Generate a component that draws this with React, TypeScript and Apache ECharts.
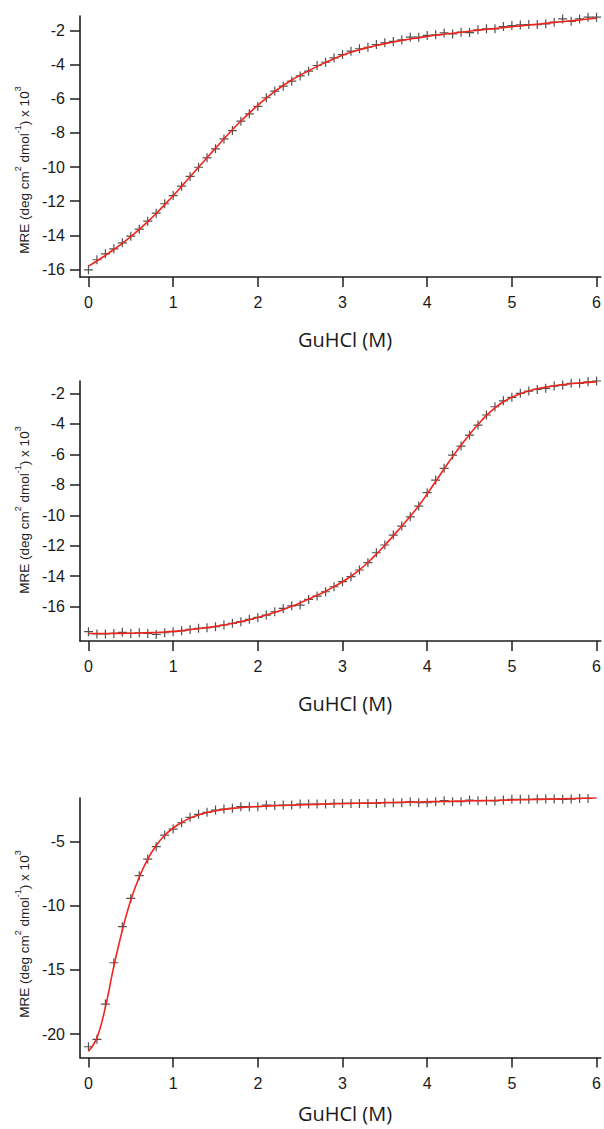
import React, { useEffect, useRef } from "react";
import * as echarts from "echarts";

const conc = [
  0, 0.1, 0.2, 0.3, 0.4, 0.5, 0.6, 0.7, 0.8, 0.9,
  1.0, 1.1, 1.2, 1.3, 1.4, 1.5, 1.6, 1.7, 1.8, 1.9,
  2.0, 2.1, 2.2, 2.3, 2.4, 2.5, 2.6, 2.7, 2.8, 2.9,
  3.0, 3.1, 3.2, 3.3, 3.4, 3.5, 3.6, 3.7, 3.8, 3.9,
  4.0, 4.1, 4.2, 4.3, 4.4, 4.5, 4.6, 4.7, 4.8, 4.9,
  5.0, 5.1, 5.2, 5.3, 5.4, 5.5, 5.6, 5.7, 5.8, 5.9,
  6.0,
];

const mre1 = [
  -16.02, -15.43, -15.08, -14.79, -14.44, -14.05, -13.64, -13.17, -12.7, -12.15,
  -11.67, -11.12, -10.55, -10.01, -9.46, -8.93, -8.35, -7.86, -7.31, -6.88,
  -6.45, -5.94, -5.55, -5.26, -4.97, -4.66, -4.38, -4.05, -3.86, -3.6,
  -3.41, -3.21, -3.07, -2.98, -2.82, -2.72, -2.64, -2.55, -2.39, -2.39,
  -2.29, -2.25, -2.14, -2.2, -2.1, -2.12, -1.96, -1.9, -1.9, -1.77,
  -1.71, -1.67, -1.65, -1.65, -1.61, -1.51, -1.32, -1.46, -1.32, -1.22,
  -1.22,
];
const fit1 = [
  -15.8, -15.5, -15.17, -14.83, -14.47, -14.07, -13.65, -13.2, -12.72, -12.2,
  -11.68, -11.13, -10.57, -10.01, -9.45, -8.89, -8.34, -7.81, -7.3, -6.83,
  -6.38, -5.96, -5.57, -5.22, -4.9, -4.62, -4.36, -4.1, -3.87, -3.65,
  -3.45, -3.28, -3.13, -3.0, -2.88, -2.77, -2.67, -2.58, -2.5, -2.42,
  -2.35, -2.28, -2.22, -2.16, -2.1, -2.04, -1.98, -1.93, -1.88, -1.83,
  -1.78, -1.73, -1.68, -1.63, -1.58, -1.53, -1.48, -1.43, -1.38, -1.33,
  -1.28,
];

const mre2 = [
  -17.64, -17.79, -17.79, -17.75, -17.68, -17.75, -17.71, -17.75, -17.82, -17.71,
  -17.64, -17.58, -17.49, -17.42, -17.38, -17.31, -17.2, -17.09, -16.98, -16.83,
  -16.7, -16.55, -16.33, -16.11, -15.94, -15.89, -15.52, -15.3, -15.02, -14.69,
  -14.36, -14.03, -13.59, -13.11, -12.46, -11.95, -11.3, -10.71, -10.1, -9.4,
  -8.52, -7.69, -6.92, -6.05, -5.46, -4.74, -4.08, -3.42, -2.88, -2.49,
  -2.26, -2.0, -1.85, -1.74, -1.67, -1.52, -1.46, -1.34, -1.34, -1.24,
  -1.19,
];
const fit2 = [
  -17.76, -17.76, -17.76, -17.75, -17.75, -17.74, -17.73, -17.71, -17.69, -17.66,
  -17.62, -17.57, -17.51, -17.44, -17.37, -17.29, -17.2, -17.1, -16.98, -16.85,
  -16.71, -16.55, -16.37, -16.18, -15.97, -15.75, -15.5, -15.25, -14.98, -14.68,
  -14.36, -14.0, -13.58, -13.1, -12.55, -11.97, -11.34, -10.72, -10.07, -9.38,
  -8.6, -7.78, -6.95, -6.15, -5.4, -4.7, -4.05, -3.45, -2.95, -2.55,
  -2.25, -2.02, -1.84, -1.7, -1.59, -1.5, -1.43, -1.37, -1.32, -1.28,
  -1.25,
];

const mre3 = [
  -20.99, -20.41, -17.66, -14.44, -11.63, -9.42, -7.65, -6.35, -5.39, -4.48,
  -4.01, -3.52, -3.1, -2.86, -2.71, -2.53, -2.45, -2.39, -2.27, -2.27,
  -2.27, -2.14, -2.17, -2.14, -2.14, -2.06, -2.06, -2.06, -2.06, -2.01,
  -2.01, -2.01, -2.01, -2.01, -2.01, -1.96, -1.96, -1.96, -1.88, -1.96,
  -1.96, -1.88, -1.8, -1.88, -1.88, -1.75, -1.8, -1.8, -1.82, -1.75,
  -1.69, -1.69, -1.69, -1.67, -1.67, -1.67, -1.69, -1.67, -1.62, -1.62,
  -1.54,
];
const fit3 = [
  -21.35, -20.3, -17.9, -14.7, -11.9, -9.55, -7.75, -6.35, -5.3, -4.5,
  -3.93, -3.5, -3.16, -2.91, -2.73, -2.59, -2.48, -2.4, -2.34, -2.29,
  -2.25, -2.22, -2.19, -2.17, -2.15, -2.13, -2.11, -2.09, -2.07, -2.05,
  -2.03, -2.01, -2.0, -1.98, -1.97, -1.95, -1.94, -1.92, -1.91, -1.9,
  -1.88, -1.87, -1.86, -1.84, -1.83, -1.82, -1.8, -1.79, -1.78, -1.76,
  -1.75, -1.73, -1.72, -1.7, -1.69, -1.67, -1.65, -1.63, -1.62, -1.6,
  -1.58,
];

const xTicks = [0, 1, 2, 3, 4, 5, 6];
const yTicks1 = [-2, -4, -6, -8, -10, -12, -14, -16];
const yTicks2 = [-2, -4, -6, -8, -10, -12, -14, -16];
const yTicks3 = [-5, -10, -15, -20];

const xTitle = "GuHCl (M)";
// MRE (deg cm² dmol⁻¹) x 10³ as rich text with real superscripts
const yTitleRich = "{n|MRE (deg cm}{s|2}{n| dmol}{s|-1}{n|) x 10}{s|3}";

const AXIS_COLOR = "#1e1e1e";
const LABEL_FONT = "Liberation Sans";

export default function App() {
  const ref = useRef<HTMLDivElement>(null);

  useEffect(() => {
    if (!ref.current) return;
    const chart = echarts.init(ref.current, undefined, { renderer: "svg" });

    const panels = [
      { top: 16, height: 261, yMin: -16.44, yMax: -1.15, yTicks: yTicks1, data: mre1, fit: fit1, xMargin: 17, titleY: 339, yTitleY: 170 },
      { top: 381, height: 260, yMin: -18.25, yMax: -1.19, yTicks: yTicks2, data: mre2, fit: fit2, xMargin: 17, titleY: 703, yTitleY: 510 },
      { top: 798, height: 259.5, yMin: -21.83, yMax: -1.59, yTicks: yTicks3, data: mre3, fit: fit3, xMargin: 18, titleY: 1113, yTitleY: 934 },
    ];

    const plus = "path://M5,0L5,10M0,5L10,5";

    const option: any = {
      animation: false,
      backgroundColor: "#ffffff",
      grid: panels.map((p) => ({ left: 80, width: 523.8, top: p.top, height: p.height, containLabel: false })),
      xAxis: panels.map((p, i) => ({
        gridIndex: i,
        type: "value",
        min: -0.1,
        max: 6.05,
        axisLine: { show: true, onZero: false, lineStyle: { color: AXIS_COLOR, width: 1.6 } },
        axisTick: { show: true, length: 10, customValues: xTicks, lineStyle: { color: AXIS_COLOR, width: 1.5 } },
        axisLabel: { customValues: xTicks, margin: p.xMargin, fontSize: 16, color: "#1a1a1a", fontFamily: LABEL_FONT },
        splitLine: { show: false },
      })),
      yAxis: panels.map((p, i) => ({
        gridIndex: i,
        type: "value",
        min: p.yMin,
        max: p.yMax,
        axisLine: { show: true, onZero: false, lineStyle: { color: AXIS_COLOR, width: 1.6 } },
        axisTick: { show: true, length: 10, customValues: p.yTicks, lineStyle: { color: AXIS_COLOR, width: 1.5 } },
        axisLabel: { customValues: p.yTicks, margin: 15, fontSize: 16, color: "#1a1a1a", fontFamily: LABEL_FONT },
        splitLine: { show: false },
      })),
      series: panels.flatMap((p, i) => [
        {
          type: "line",
          xAxisIndex: i,
          yAxisIndex: i,
          data: conc.map((c, k) => [c, p.fit[k]]),
          smooth: 0.4,
          showSymbol: false,
          symbol: "none",
          lineStyle: { color: "#f2241c", width: 1.6 },
          z: 3,
        },
        {
          type: "scatter",
          xAxisIndex: i,
          yAxisIndex: i,
          data: conc.map((c, k) => [c, p.data[k]]),
          symbol: plus,
          symbolSize: 9,
          itemStyle: { color: "rgba(0,0,0,0)", borderColor: "#262626", borderWidth: 1.2 },
          z: 2,
        },
      ]),
      graphic: panels.flatMap((p) => [
        {
          type: "text",
          x: 345,
          y: p.titleY,
          style: {
            text: xTitle,
            font: "20px 'Open Sans', sans-serif",
            fill: "#1a1a1a",
            textAlign: "center",
            textVerticalAlign: "middle",
          },
        },
        {
          type: "text",
          x: 22,
          y: p.yTitleY,
          rotation: Math.PI / 2,
          style: {
            text: yTitleRich,
            textAlign: "center",
            textVerticalAlign: "middle",
            rich: {
              n: { fontSize: 13.5, fontFamily: LABEL_FONT, fill: "#222", lineHeight: 18, verticalAlign: "bottom" },
              s: { fontSize: 9, fontFamily: LABEL_FONT, fill: "#222", lineHeight: 18, verticalAlign: "top" },
            },
          },
        },
      ]),
    };

    chart.setOption(option);
    return () => chart.dispose();
  }, []);

  return (
    <div
      ref={ref}
      style={{ position: "absolute", left: 0, top: 0, width: 604, height: 1129, background: "#fff" }}
    />
  );
}
